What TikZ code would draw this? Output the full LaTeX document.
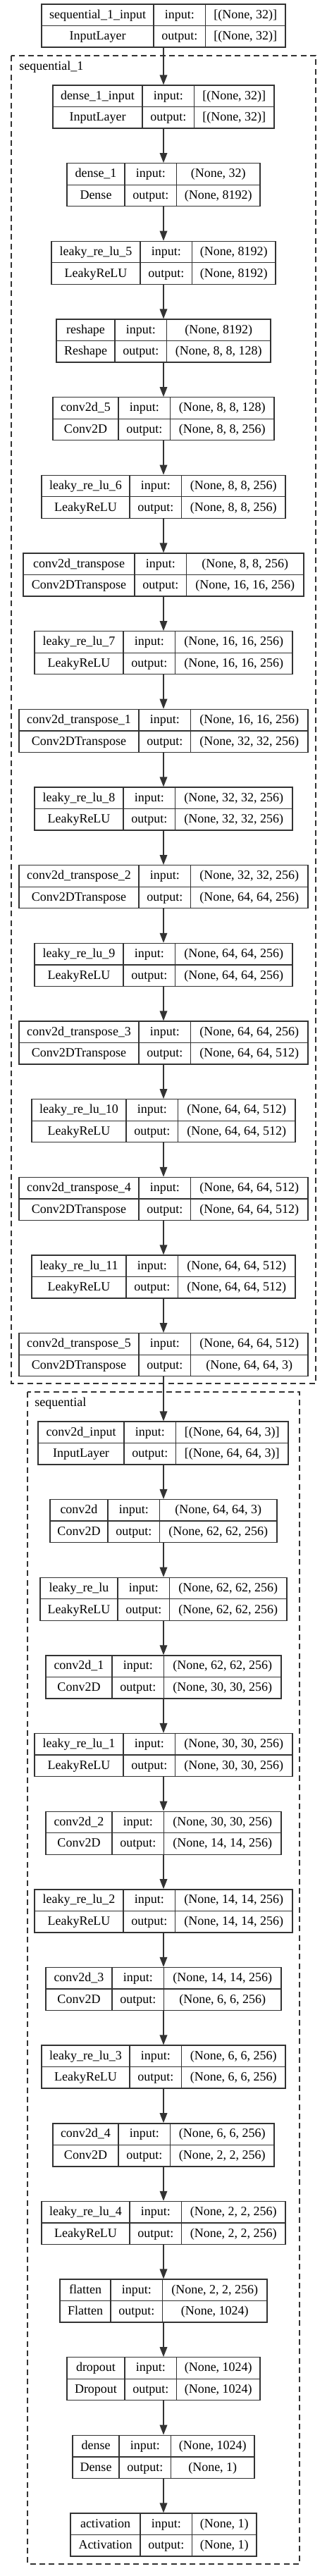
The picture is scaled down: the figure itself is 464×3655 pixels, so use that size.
\documentclass[tikz,border=0pt]{standalone}
\usepackage{fontspec}
\setmainfont{Liberation Serif}
\usepackage{tikz}
\usetikzlibrary{arrows.meta}
\definecolor{boxline}{HTML}{333333}
\newcommand{\cellfont}{\fontsize{13.5pt}{16pt}\selectfont}
\newcommand{\makelayer}[9]{
	\node[layerbox, minimum width={(#5-#3)*0.75pt}] (#1) at ({(#3+#5)/2},{#2+30.5}) {};
	\draw[cellline] (#4,#2) -- (#4,{#2+61});
	\draw[cellline] ({#4+73.5},#2) -- ({#4+73.5},{#2+61});
	\draw[cellline] (#3,{#2+30.5}) -- (#5,{#2+30.5});
	\node[celltext] (#1-name) at ({(#3+#4)/2},{#2+20}) {#6};
	\node[celltext] (#1-class) at ({(#3+#4)/2},{#2+50.7}) {#7};
	\node[celltext] (#1-inlabel) at ({#4+36.75},{#2+20}) {input:};
	\node[celltext] (#1-outlabel) at ({#4+36.75},{#2+50.7}) {output:};
	\node[celltext] (#1-in) at ({(#4+73.5+#5)/2},{#2+20}) {#8};
	\node[celltext] (#1-out) at ({(#4+73.5+#5)/2},{#2+50.7}) {#9};
}

\begin{document}
\begin{tikzpicture}[x=0.75pt,y=-0.75pt,
	layerbox/.style={draw=boxline, line width=1pt, inner sep=0pt, minimum height=45.75pt},
	cellline/.style={draw=boxline, line width=1pt},
	celltext/.style={anchor=base, inner sep=0pt, font=\cellfont},
	cluster/.style={draw=boxline, line width=1pt, dash pattern=on 6pt off 4pt},
	edge/.style={draw=boxline, line width=1pt, -{Triangle[length=10.5pt, width=8pt]}}]
	\useasboundingbox (0,0) rectangle (464,3655);
	\coordinate (spine) at (232,0);

	% clusters
	\draw[cluster] (16,79) rectangle (448,1963);
	\node[celltext, anchor=base west] (gen-label) at (27,99) {sequential\_1};
	\draw[cluster] (39,1975) rectangle (425,3638);
	\node[celltext, anchor=base west] (disc-label) at (49,1995) {sequential};

	\makelayer{seqin}{6}{59}{218}{405}{sequential\_1\_input}{InputLayer}{[(None, 32)]}{[(None, 32)]}

	% generator
	\makelayer{densein}{121}{75}{202}{389}{dense\_1\_input}{InputLayer}{[(None, 32)]}{[(None, 32)]}
	\makelayer{dense1}{231.7}{95}{177}{369}{dense\_1}{Dense}{(None, 32)}{(None, 8192)}
	\makelayer{lrelu5}{342.3}{73}{199}{391}{leaky\_re\_lu\_5}{LeakyReLU}{(None, 8192)}{(None, 8192)}
	\makelayer{reshape}{453}{80}{163}{384}{reshape}{Reshape}{(None, 8192)}{(None, 8, 8, 128)}
	\makelayer{conv5}{563.7}{75}{168}{389}{conv2d\_5}{Conv2D}{(None, 8, 8, 128)}{(None, 8, 8, 256)}
	\makelayer{lrelu6}{674.3}{59}{184}{405}{leaky\_re\_lu\_6}{LeakyReLU}{(None, 8, 8, 256)}{(None, 8, 8, 256)}
	\makelayer{convt0}{785}{33}{191}{431}{conv2d\_transpose}{Conv2DTranspose}{(None, 8, 8, 256)}{(None, 16, 16, 256)}
	\makelayer{lrelu7}{895.7}{49}{175}{415}{leaky\_re\_lu\_7}{LeakyReLU}{(None, 16, 16, 256)}{(None, 16, 16, 256)}
	\makelayer{convt1}{1006.4}{27}{197}{437}{conv2d\_transpose\_1}{Conv2DTranspose}{(None, 16, 16, 256)}{(None, 32, 32, 256)}
	\makelayer{lrelu8}{1117}{49}{175}{415}{leaky\_re\_lu\_8}{LeakyReLU}{(None, 32, 32, 256)}{(None, 32, 32, 256)}
	\makelayer{convt2}{1227.7}{27}{197}{437}{conv2d\_transpose\_2}{Conv2DTranspose}{(None, 32, 32, 256)}{(None, 64, 64, 256)}
	\makelayer{lrelu9}{1338.4}{49}{175}{415}{leaky\_re\_lu\_9}{LeakyReLU}{(None, 64, 64, 256)}{(None, 64, 64, 256)}
	\makelayer{convt3}{1449}{27}{197}{437}{conv2d\_transpose\_3}{Conv2DTranspose}{(None, 64, 64, 256)}{(None, 64, 64, 512)}
	\makelayer{lrelu10}{1559.7}{45}{179}{419}{leaky\_re\_lu\_10}{LeakyReLU}{(None, 64, 64, 512)}{(None, 64, 64, 512)}
	\makelayer{convt4}{1670.4}{27}{197}{437}{conv2d\_transpose\_4}{Conv2DTranspose}{(None, 64, 64, 512)}{(None, 64, 64, 512)}
	\makelayer{lrelu11}{1781}{45}{179}{419}{leaky\_re\_lu\_11}{LeakyReLU}{(None, 64, 64, 512)}{(None, 64, 64, 512)}
	\makelayer{convt5}{1891.7}{27}{197}{437}{conv2d\_transpose\_5}{Conv2DTranspose}{(None, 64, 64, 512)}{(None, 64, 64, 3)}

	% discriminator
	\makelayer{convin}{2017}{54}{176}{409}{conv2d\_input}{InputLayer}{[(None, 64, 64, 3)]}{[(None, 64, 64, 3)]}
	\makelayer{conv0}{2127.6}{71}{153}{393}{conv2d}{Conv2D}{(None, 64, 64, 3)}{(None, 62, 62, 256)}
	\makelayer{lrelu0}{2238.3}{57}{167}{407}{leaky\_re\_lu}{LeakyReLU}{(None, 62, 62, 256)}{(None, 62, 62, 256)}
	\makelayer{conv1}{2348.9}{65}{159}{399}{conv2d\_1}{Conv2D}{(None, 62, 62, 256)}{(None, 30, 30, 256)}
	\makelayer{lrelu1}{2459.6}{49}{175}{415}{leaky\_re\_lu\_1}{LeakyReLU}{(None, 30, 30, 256)}{(None, 30, 30, 256)}
	\makelayer{conv2}{2570.2}{65}{159}{399}{conv2d\_2}{Conv2D}{(None, 30, 30, 256)}{(None, 14, 14, 256)}
	\makelayer{lrelu2}{2680.8}{49}{175}{415}{leaky\_re\_lu\_2}{LeakyReLU}{(None, 14, 14, 256)}{(None, 14, 14, 256)}
	\makelayer{conv3}{2791.5}{65}{159}{399}{conv2d\_3}{Conv2D}{(None, 14, 14, 256)}{(None, 6, 6, 256)}
	\makelayer{lrelu3}{2902.1}{59}{184}{405}{leaky\_re\_lu\_3}{LeakyReLU}{(None, 6, 6, 256)}{(None, 6, 6, 256)}
	\makelayer{conv4}{3012.8}{75}{168}{389}{conv2d\_4}{Conv2D}{(None, 6, 6, 256)}{(None, 2, 2, 256)}
	\makelayer{lrelu4}{3123.4}{59}{184}{405}{leaky\_re\_lu\_4}{LeakyReLU}{(None, 2, 2, 256)}{(None, 2, 2, 256)}
	\makelayer{flatten}{3234}{85}{157}{379}{flatten}{Flatten}{(None, 2, 2, 256)}{(None, 1024)}
	\makelayer{dropout}{3344.7}{95}{177}{369}{dropout}{Dropout}{(None, 1024)}{(None, 1024)}
	\makelayer{dense0}{3455.3}{103}{169}{361}{dense}{Dense}{(None, 1024)}{(None, 1)}
	\makelayer{act}{3566}{100}{199}{364}{activation}{Activation}{(None, 1)}{(None, 1)}

	% connectors
	\foreach \a/\b in {seqin/densein, densein/dense1, dense1/lrelu5, lrelu5/reshape, reshape/conv5, conv5/lrelu6, lrelu6/convt0, convt0/lrelu7, lrelu7/convt1, convt1/lrelu8, lrelu8/convt2, convt2/lrelu9, lrelu9/convt3, convt3/lrelu10, lrelu10/convt4, convt4/lrelu11, lrelu11/convt5, convt5/convin, convin/conv0, conv0/lrelu0, lrelu0/conv1, conv1/lrelu1, lrelu1/conv2, conv2/lrelu2, lrelu2/conv3, conv3/lrelu3, lrelu3/conv4, conv4/lrelu4, lrelu4/flatten, flatten/dropout, dropout/dense0, dense0/act}
		\draw[edge] (\a.south -| spine) -- (\b.north -| spine);
\end{tikzpicture}
\end{document}
